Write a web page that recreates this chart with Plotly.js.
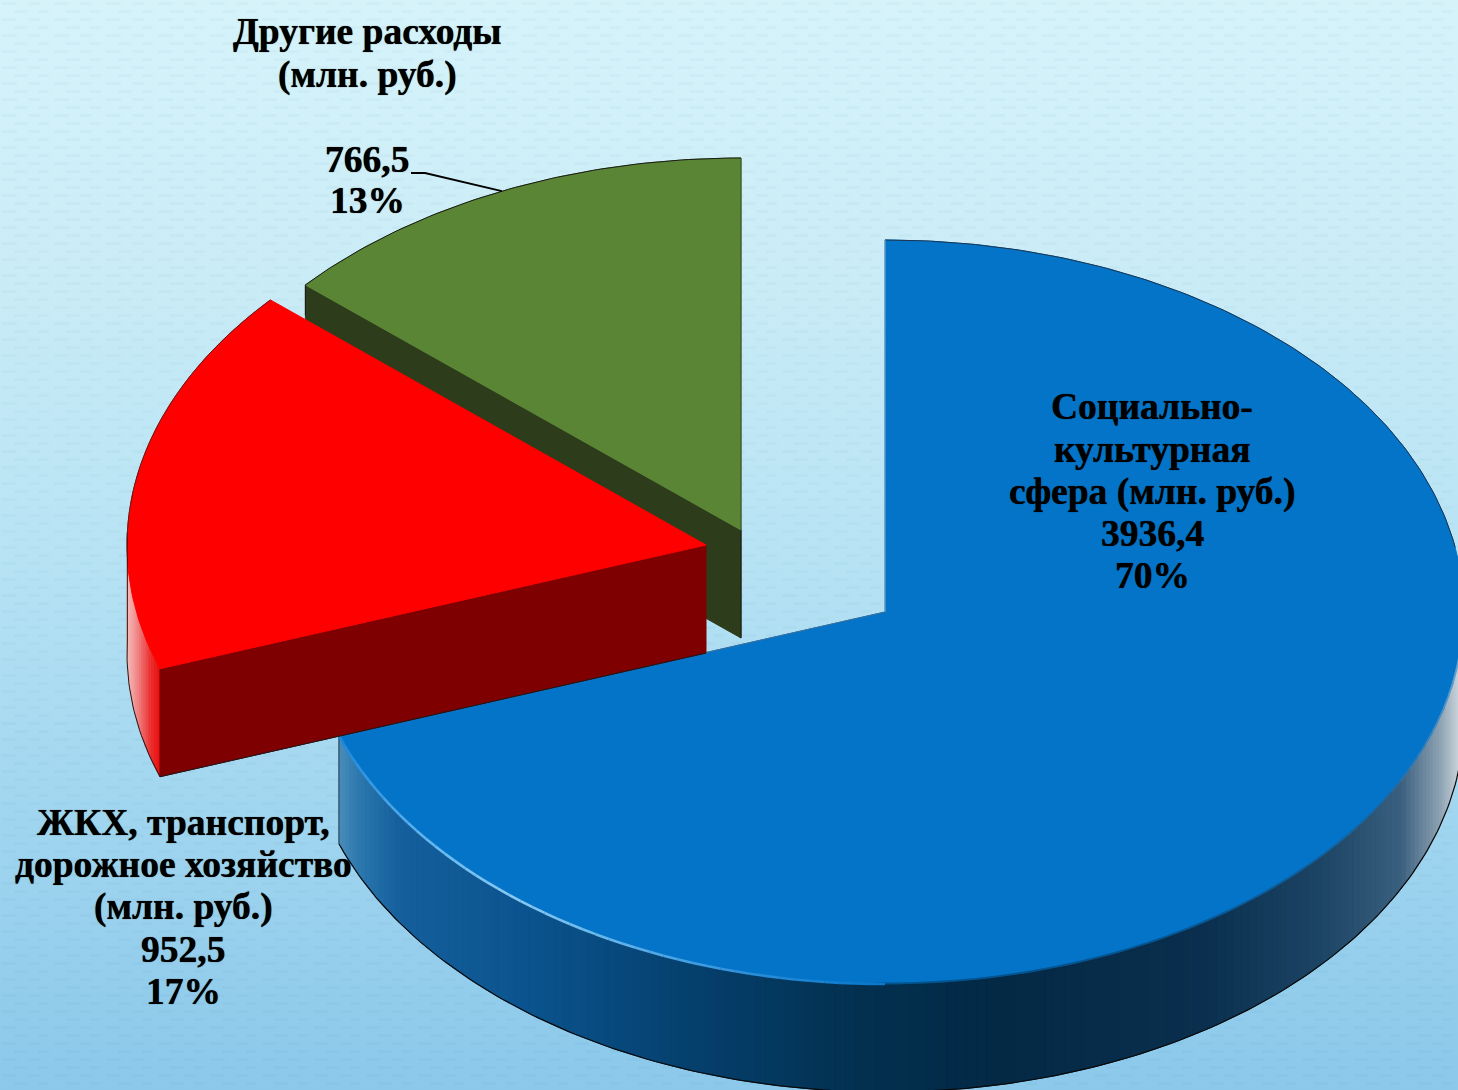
<!DOCTYPE html>
<html lang="ru">
<head>
<meta charset="utf-8">
<script src="https://cdn.plot.ly/plotly-3.0.1.min.js"></script>
<style>
html,body{margin:0;padding:0;width:1458px;height:1090px;overflow:hidden}
body{background-color:#b4e0f3;
background-image:url("data:image/svg+xml;utf8,<svg xmlns='http://www.w3.org/2000/svg' width='52' height='16'><g fill='%23104a70' fill-opacity='0.028'><rect x='2' y='2' width='15' height='3' rx='1.5'/><rect x='28' y='2' width='12' height='3' rx='1.5'/><rect x='14' y='10' width='14' height='3' rx='1.5'/><rect x='38' y='10' width='11' height='3' rx='1.5'/></g></svg>"),linear-gradient(180deg,#d6f3fa 0%,#ccedf7 22%,#b8e3f4 50%,#a3d7f0 72%,#8bc8ea 100%)}
#chart{position:absolute;left:0;top:0;width:1458px;height:1090px}
</style>
</head>
<body>
<div id="chart"></div>
<script>
// ---- data ----
var categories = ['Социально-культурная сфера (млн. руб.)', 'ЖКХ, транспорт, дорожное хозяйство (млн. руб.)', 'Другие расходы (млн. руб.)'];
var values = [3936.4, 952.5, 766.5];
var valueLabels = ['3936,4', '952,5', '766,5'];
var percentLabels = ['70%', '17%', '13%'];
var labelLinesBlue = ['Социально-', 'культурная', 'сфера (млн. руб.)', valueLabels[0], percentLabels[0]];
var labelLinesRed = ['ЖКХ, транспорт,', 'дорожное хозяйство', '(млн. руб.)', valueLabels[1], percentLabels[1]];
var labelLinesGreen = ['Другие расходы', '(млн. руб.)', '', valueLabels[2], percentLabels[2]];

// ---- projection of the tilted, exploded pie ----
var RX = 579, RY = 372, DEPTH = 108;
var apexes = [{x: 885, y: 612}, {x: 706, y: 545}, {x: 741, y: 530}];

// ---- colours ----
var topColors = ['#0474c8', '#fe0000', '#5a8535'];
var faceRed = '#7f0000', faceGreen = '#2d3d1c', edgeColor = '#1a1a1a';
var blueRimStops = [[338,'#4a8dba'],[360,'#2a76ad'],[400,'#145f9c'],[520,'#0b548f'],[680,'#05416f'],[860,'#03304f'],[1000,'#032945'],[1200,'#0a2f4e'],[1320,'#1c4464'],[1400,'#3a5f7f'],[1440,'#8ea3b3'],[1460,'#d0d8de']];
var redRimStops = [[126,'#f7c0c0'],[138,'#f08080'],[150,'#ec3030'],[162,'#e80606']];
var glintStops = [[338,'#1a86dc'],[430,'#62b6ee'],[520,'#8acbf2'],[640,'#5cb0ea'],[760,'#2a8ed9'],[880,'#0a78cb']];

var total = values.reduce(function (a, b) { return a + b; }, 0);
var angle0 = 0;
var angles = values.map(function (v) {
  var a = [angle0, angle0 + v / total * 360];
  angle0 = a[1];
  return a;
});

function pt(c, deg, dz) {
  var r = deg * Math.PI / 180;
  return [c.x + RX * Math.sin(r), c.y - RY * Math.cos(r) + (dz || 0)];
}
function arc(c, a, b, dz) {
  var n = Math.max(2, Math.ceil(Math.abs(b - a) / 0.75)), out = [];
  for (var i = 0; i <= n; i++) out.push(pt(c, a + (b - a) * i / n, dz));
  return out;
}
function hex(s) { return [1, 3, 5].map(function (i) { return parseInt(s.substr(i, 2), 16); }); }
function colorAt(stops, x) {
  if (x <= stops[0][0]) return stops[0][1];
  for (var i = 1; i < stops.length; i++) {
    if (x <= stops[i][0]) {
      var t = (x - stops[i - 1][0]) / (stops[i][0] - stops[i - 1][0]);
      var a = hex(stops[i - 1][1]), b = hex(stops[i][1]);
      return 'rgb(' + a.map(function (v, k) { return Math.round(v + (b[k] - v) * t); }).join(',') + ')';
    }
  }
  return stops[stops.length - 1][1];
}

var traces = [];
function poly(points, fill) {
  traces.push({
    x: points.map(function (p) { return p[0]; }),
    y: points.map(function (p) { return p[1]; }),
    mode: 'lines', fill: 'toself', fillcolor: fill,
    line: {color: fill, width: 1}, hoverinfo: 'skip', showlegend: false
  });
}
function stroke(points, color, width, opacity) {
  traces.push({
    x: points.map(function (p) { return p[0]; }),
    y: points.map(function (p) { return p[1]; }),
    mode: 'lines', line: {color: color, width: width}, opacity: opacity === undefined ? 1 : opacity,
    hoverinfo: 'skip', showlegend: false
  });
}
function rim(c, a, b, stops) {
  var step = 1;
  for (var t = a; t < b; t += step) {
    var e = Math.min(b, t + step);
    var p1 = pt(c, t), p2 = pt(c, e), p3 = pt(c, e, DEPTH), p4 = pt(c, t, DEPTH);
    poly([p1, p2, p3, p4, p1], colorAt(stops, (p1[0] + p2[0]) / 2));
  }
}

// green slice: cut face, then top
var gA = apexes[2];
var gEnd = pt(gA, angles[2][0]);
poly([gEnd, [gA.x, gA.y], [gA.x, gA.y + DEPTH], pt(gA, angles[2][0], DEPTH), gEnd], faceGreen);
poly([[gA.x, gA.y]].concat(arc(gA, angles[2][0], angles[2][1])).concat([[gA.x, gA.y]]), topColors[2]);
stroke(arc(gA, angles[2][0], angles[2][1]), edgeColor, 1);
stroke([[gA.x, gA.y], pt(gA, 360)], '#3a4a2a', 1);
stroke([[gA.x, gA.y + DEPTH], [gA.x, gA.y]], edgeColor, 1);
stroke([pt(gA, angles[2][0]), pt(gA, angles[2][0], 30)], edgeColor, 1);

// blue slice: outer rim, top, soft boundary, glint
var bA = apexes[0];
rim(bA, 90, angles[0][1], blueRimStops);
stroke(arc(bA, 85, angles[0][1], DEPTH), '#0a0a0a', 1.2);
stroke([pt(bA, angles[0][1]), pt(bA, angles[0][1], DEPTH)], '#30404c', 1);
poly([[bA.x, bA.y]].concat(arc(bA, angles[0][0], angles[0][1])).concat([[bA.x, bA.y]]), topColors[0]);
stroke(arc(bA, 0, 80), '#1c3550', 1);
for (var s = 85; s < 180; s += 2) {
  var softSeg = arc(bA, s, s + 2);
  stroke(softSeg, colorAt(blueRimStops, softSeg[0][0]), 3, 0.45);
}
for (var g = 180; g < angles[0][1]; g += 1.5) {
  var seg = arc(bA, g, Math.min(angles[0][1], g + 1.5));
  stroke(seg, colorAt(glintStops, seg[0][0]), 2.6);
}
stroke([[bA.x, bA.y], pt(bA, angles[0][1])], '#3a6f9c', 1);
stroke([[bA.x, bA.y], pt(bA, 0)], '#7fa9c4', 1);

// red slice: rim, cut face, top
var rA = apexes[1];
rim(rA, angles[1][0], 272, redRimStops);
poly([[rA.x, rA.y], pt(rA, angles[1][0]), pt(rA, angles[1][0], DEPTH), [rA.x, rA.y + DEPTH], [rA.x, rA.y]], faceRed);
poly([[rA.x, rA.y]].concat(arc(rA, angles[1][0], angles[1][1])).concat([[rA.x, rA.y]]), topColors[1]);
stroke(arc(rA, angles[1][0], 272, DEPTH), edgeColor, 1);
stroke([pt(rA, 272), pt(rA, 272, DEPTH)], edgeColor, 1);
stroke([pt(rA, angles[1][0], DEPTH), [rA.x, rA.y + DEPTH]], edgeColor, 1);
stroke(arc(rA, 268, angles[1][1]), '#5a2020', 1);

// leader line to the middle of the green slice's arc
var greenMid = pt(gA, (angles[2][0] + angles[2][1]) / 2);
stroke([[411, 173], [425, 173], greenMid], '#000000', 1.8);

// labels
var FONT = {family: '"Liberation Serif", "Times New Roman", serif', size: 37.5, color: '#000000', shadow: '0 0 0.8px #000'};
var annotations = [];
function addLines(lines, x, ys) {
  lines.forEach(function (s, i) {
    if (!s) return;
    annotations.push({
      x: x, y: ys[i], xref: 'x', yref: 'y', text: '<b>' + s + '</b>',
      showarrow: false, xanchor: 'center', yanchor: 'middle', font: FONT
    });
  });
}
addLines(labelLinesBlue, 1152, [406, 449, 492, 533, 575]);
addLines(labelLinesRed, 183, [822, 864, 907, 949, 991]);
addLines(labelLinesGreen, 367, [31, 75, 117, 159, 200]);

Plotly.newPlot('chart', traces, {
  width: 1458, height: 1090,
  margin: {l: 0, r: 0, t: 0, b: 0},
  paper_bgcolor: 'rgba(0,0,0,0)', plot_bgcolor: 'rgba(0,0,0,0)',
  showlegend: false,
  xaxis: {range: [0, 1458], visible: false, fixedrange: true},
  yaxis: {range: [1090, 0], visible: false, fixedrange: true},
  annotations: annotations
}, {displayModeBar: false, staticPlot: true});
</script>
</body>
</html>
